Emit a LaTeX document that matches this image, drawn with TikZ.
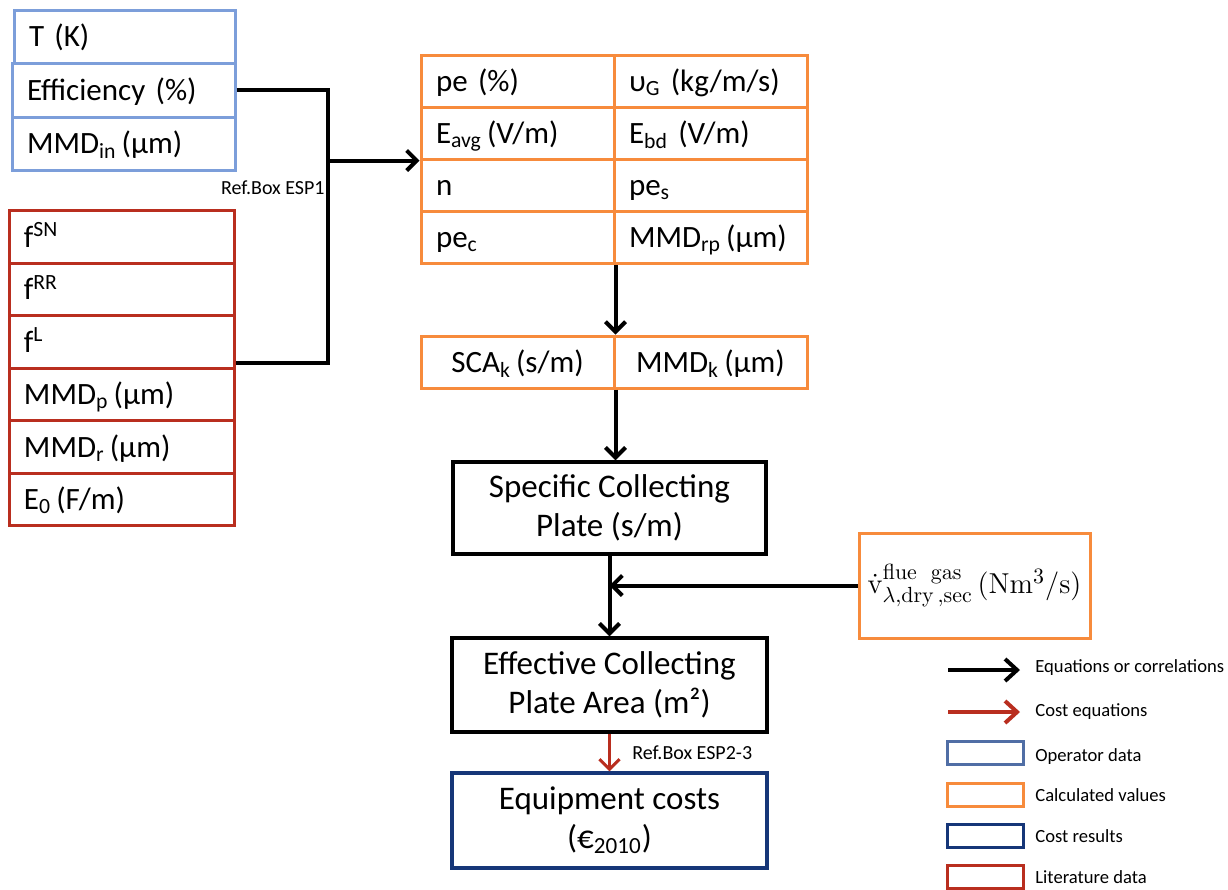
\documentclass[tikz,border=0pt]{standalone}
\usepackage[no-math]{fontspec}
\setmainfont{Carlito}
\usetikzlibrary{arrows.meta,calc}
\definecolor{opblue}{RGB}{124,158,218}
\definecolor{opleg}{RGB}{80,110,165}
\definecolor{litred}{RGB}{185,46,31}
\definecolor{calcor}{RGB}{247,139,60}
\definecolor{costblue}{RGB}{22,54,120}
\tikzset{
  cell/.style={draw, line width=1.5pt, text height=12pt, text depth=2pt,
    inner xsep=7.5pt, inner ysep=0pt, align=left, font=\fontsize{15.5}{18}\selectfont},
  opcell/.style={cell, draw=opblue},
  litcell/.style={cell, draw=litred, text width=97.5pt, minimum height=26.25pt},
  calccell/.style={cell, draw=calcor, text width=81.5pt, minimum height=26pt},
  bigbox/.style={draw, line width=1.75pt, align=center, inner sep=0pt,
    font=\fontsize{16.5}{19.5}\selectfont},
  conn/.style={line width=2pt, black},
  arr/.style={conn, -{Straight Barb[length=5pt,width=10pt]}},
  redarr/.style={line width=1.5pt, litred, -{Straight Barb[length=5pt,width=10pt]}},
  legarr/.style={line width=2pt, -{Straight Barb[length=6pt,width=11pt]}},
  legbox/.style={draw, line width=1.5pt, minimum width=38pt, minimum height=11.5pt, inner sep=0pt},
  legtxt/.style={anchor=base west, inner sep=0pt, font=\fontsize{9.3}{11}\selectfont},
  reflbl/.style={inner sep=0pt, font=\fontsize{10}{12}\selectfont},
}
\begin{document}
\begin{tikzpicture}[x=0.5pt,y=-0.5pt]
\useasboundingbox (0,0) rectangle (1228,890);
% operator data
\node[opcell, text width=95.5pt, minimum height=26.5pt] (tk) at (124.5,36.5) {T (K)};
\node[opcell, text width=96.5pt, minimum height=27pt] (eff) at (123.5,90) {Efficiency (\%)};
\node[opcell, text width=96.5pt, minimum height=26.5pt] (mmdin) at (123.5,143.5) {MMD\textsubscript{in}\,(µm)};
% literature data
\node[litcell] (fSN) at (121.5,237) {f\textsuperscript{SN}};
\node[litcell] (fRR) at (121.5,289.5) {f\textsuperscript{RR}};
\node[litcell] (fL) at (121.5,342) {f\textsuperscript{L}};
\node[litcell] (mmdp) at (121.5,394.5) {MMD\textsubscript{p}\,(µm)};
\node[litcell] (mmdr) at (121.5,447) {MMD\textsubscript{r}\,(µm)};
\node[litcell] (e0) at (121.5,499.5) {E\textsubscript{0}\,(F/m)};
% calculated table
\node[calccell] (c11) at (517.5,81) {pe (\%)};
\node[calccell] (c12) at (710.5,81) {υ\textsubscript{G} (kg/m/s)};
\node[calccell] (c21) at (517.5,133) {E\textsubscript{avg}\,(V/m)};
\node[calccell] (c22) at (710.5,133) {E\textsubscript{bd} (V/m)};
\node[calccell] (c31) at (517.5,185) {n};
\node[calccell] (c32) at (710.5,185) {pe\textsubscript{s}};
\node[calccell] (c41) at (517.5,237.5) {pe\textsubscript{c}};
\node[calccell] (c42) at (710.5,237.5) {MMD\textsubscript{rp}\,(µm)};
\node[calccell, align=center] (sca1) at (517.5,362) {SCA\textsubscript{k}\,(s/m)};
\node[calccell, align=center] (sca2) at (710.5,362) {MMD\textsubscript{k}\,(µm)};
% main boxes
\node[bigbox, minimum width=156.5pt, minimum height=46pt] (spec) at (609.5,508) {Specific Collecting\\Plate (s/m)};
\node[bigbox, minimum width=157.5pt, minimum height=47pt] (effa) at (609.5,685) {Effective Collecting\\Plate Area (m²)};
\node[bigbox, draw=costblue, minimum width=157.5pt, minimum height=47.5pt] (equip) at (609.5,820.5) {Equipment costs\\(€\textsubscript{2010})};
\node[draw=calcor, line width=1.5pt, minimum width=115.5pt, minimum height=52.5pt, inner sep=0pt,
  font=\fontsize{15.5}{18}\selectfont] (flue) at (974.5,585.5)
  {$\dot{\mathrm{v}}^{\mathrm{flue\ \ gas}}_{\lambda,\mathrm{dry}\,,\mathrm{sec}}\,(\mathrm{Nm^3/s})$};
% connectors
\coordinate (jx) at (328,0);
\coordinate (jb) at (328,363);
\draw[conn] (eff.east) -| (jb) -- (jb -| fL.east);
\draw[arr] (jx |- c21.south west) -- (c21.south west);
\draw[arr] (c41.south east) -- (sca1.north east);
\draw[arr] (sca1.south east) -- (sca1.south east |- spec.north);
\draw[arr] (spec.south) -- (effa.north);
\draw[arr] (flue.west) -- (flue.west -| spec.south);
\draw[redarr] (effa.south) -- (equip.north);
\node[reflbl, anchor=east] (ref1) at (325,188) {Ref.Box ESP1};
\node[reflbl, anchor=west] (ref2) at (632,753) {Ref.Box ESP2-3};
% legend
\coordinate (la1) at (948,670);
\coordinate (la2) at (1020,670);
\coordinate (lr1) at (948,712);
\coordinate (lr2) at (1020,712);
\draw[legarr] (la1) -- (la2);
\draw[legarr, litred] (lr1) -- (lr2);
\node[legtxt] (lt1) at (1035,672) {Equations or correlations};
\node[legtxt] (lt2) at (1035,716) {Cost equations};
\node[legbox, draw=opleg] (lb1) at (985,753) {};
\node[legbox, draw=calcor] (lb2) at (985,795) {};
\node[legbox, draw=costblue] (lb3) at (985,836) {};
\node[legbox, draw=litred] (lb4) at (985,877) {};
\node[legtxt] (lt3) at (1035,761) {Operator data};
\node[legtxt] (lt4) at (1035,801) {Calculated values};
\node[legtxt] (lt5) at (1035,842) {Cost results};
\node[legtxt] (lt6) at (1035,883) {Literature data};
\end{tikzpicture}
\end{document}
